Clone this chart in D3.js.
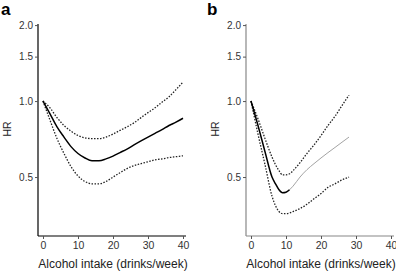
<!DOCTYPE html>
<html>
<head>
<meta charset="utf-8">
<script src="https://cdn.jsdelivr.net/npm/d3@7"></script>
<style>
  body { margin: 0; background: #fff; }
  text { font-family: "Liberation Sans", Arial, sans-serif; }
</style>
</head>
<body>
<div id="chart"></div>
<script>
// panel a: drinks/week and hazard ratios
var drinksA = [0, 2, 4, 6, 8, 10, 12, 14, 16, 18, 20, 22, 24, 26, 28, 30, 32, 34, 36, 38, 40];
var hrA    = [1.0, 0.89, 0.79, 0.72, 0.66, 0.62, 0.595, 0.58, 0.58, 0.59, 0.605, 0.625, 0.645, 0.67, 0.695, 0.72, 0.745, 0.77, 0.80, 0.825, 0.855];
var upperA = [1.0, 0.94, 0.86, 0.80, 0.76, 0.73, 0.715, 0.71, 0.71, 0.72, 0.74, 0.765, 0.79, 0.82, 0.86, 0.90, 0.94, 0.99, 1.04, 1.11, 1.19];
var lowerA = [1.0, 0.84, 0.71, 0.62, 0.55, 0.505, 0.48, 0.47, 0.47, 0.48, 0.50, 0.52, 0.54, 0.555, 0.565, 0.575, 0.585, 0.59, 0.597, 0.602, 0.607];

// panel b
var drinksB = [0, 2, 4, 6, 7, 8, 9, 10, 11, 12, 14, 16, 18, 20, 22, 24, 26, 28];
var hrB    = [1.0, 0.80, 0.63, 0.50, 0.47, 0.445, 0.433, 0.435, 0.445, 0.46, 0.50, 0.535, 0.565, 0.595, 0.625, 0.655, 0.687, 0.72];
var upperB = [1.0, 0.85, 0.71, 0.60, 0.56, 0.53, 0.51, 0.51, 0.515, 0.53, 0.57, 0.62, 0.67, 0.73, 0.80, 0.87, 0.96, 1.056];
var lowerB = [1.0, 0.74, 0.56, 0.42, 0.385, 0.365, 0.358, 0.358, 0.36, 0.365, 0.375, 0.39, 0.41, 0.43, 0.455, 0.47, 0.487, 0.50];

var xTicks = [0, 10, 20, 30, 40];
var yTicks = [0.5, 1.0, 1.5, 2.0];
var xLabel = "Alcohol intake (drinks/week)";
var yLabel = "HR";

var svg = d3.select("#chart").append("svg")
    .attr("width", 396)
    .attr("height", 272);

function drawPanel(opt) {
  var g = svg.append("g").attr("transform", "translate(" + opt.dx + ",0)");

  var x = d3.scaleLinear().domain([0, 40]).range([43, 183]);
  var y = d3.scaleLog().domain([0.292, 2.02]).range([236, 24]);

  // L-shaped frame
  g.append("line").attr("x1", 38).attr("x2", 38).attr("y1", 24).attr("y2", 236)
    .attr("stroke", opt.axisColor).attr("stroke-width", 1.2);
  g.append("line").attr("x1", 38).attr("x2", 186).attr("y1", 236).attr("y2", 236)
    .attr("stroke", opt.axisColor).attr("stroke-width", 1.2);

  var yAxis = g.append("g")
    .attr("transform", "translate(38,0)")
    .call(d3.axisLeft(y).tickValues(yTicks).tickFormat(d3.format(".1f")).tickSize(3).tickPadding(2));
  yAxis.select(".domain").remove();
  yAxis.selectAll("line").attr("stroke", "#555");
  yAxis.selectAll("text").attr("fill", "#333").style("font-size", "10px");

  var xAxis = g.append("g")
    .attr("transform", "translate(0,236)")
    .call(d3.axisBottom(x).tickValues(xTicks).tickSize(3).tickPadding(3));
  xAxis.select(".domain").remove();
  xAxis.selectAll("line").attr("stroke", "#555");
  xAxis.selectAll("text").attr("fill", "#333").style("font-size", "10.5px");

  g.append("text")
    .attr("x", 113).attr("y", 268)
    .attr("text-anchor", "middle")
    .style("font-size", "12px")
    .attr("fill", "#222")
    .text(xLabel);

  g.append("text")
    .attr("transform", "translate(" + 11 + ",129) rotate(-90)")
    .attr("text-anchor", "middle")
    .style("font-size", "10.5px")
    .attr("fill", "#222")
    .text(yLabel);

  g.append("text")
    .attr("x", opt.labelX).attr("y", 15)
    .style("font-size", "17px")
    .style("font-weight", "bold")
    .text(opt.label);

  var line = d3.line()
    .x(function(d) { return x(d[0]); })
    .y(function(d) { return y(d[1]); })
    .curve(d3.curveMonotoneX);

  function pairs(xs, ys) { return xs.map(function(v, i) { return [v, ys[i]]; }); }

  g.append("path").datum(pairs(opt.drinks, opt.upper))
    .attr("fill", "none").attr("stroke", "#222").attr("stroke-width", 1.3)
    .attr("stroke-dasharray", "1.5,1.5").attr("d", line);
  g.append("path").datum(pairs(opt.drinks, opt.lower))
    .attr("fill", "none").attr("stroke", "#222").attr("stroke-width", 1.3)
    .attr("stroke-dasharray", "1.5,1.5").attr("d", line);

  var mid = pairs(opt.drinks, opt.hr);
  if (opt.splitAt != null) {
    g.append("path").datum(mid.filter(function(d) { return d[0] >= opt.splitAt; }))
      .attr("fill", "none").attr("stroke", "#999").attr("stroke-width", 0.9).attr("d", line);
    g.append("path").datum(mid.filter(function(d) { return d[0] <= opt.splitAt; }))
      .attr("fill", "none").attr("stroke", "#000").attr("stroke-width", 1.5).attr("d", line);
  } else {
    g.append("path").datum(mid)
      .attr("fill", "none").attr("stroke", "#000").attr("stroke-width", 1.5).attr("d", line);
  }
}

drawPanel({dx: 0, label: "a", labelX: 1, axisColor: "#000",
  drinks: drinksA, hr: hrA, upper: upperA, lower: lowerA, splitAt: null});
drawPanel({dx: 208, label: "b", labelX: -1, axisColor: "#888",
  drinks: drinksB, hr: hrB, upper: upperB, lower: lowerB, splitAt: 11});
</script>
</body>
</html>
